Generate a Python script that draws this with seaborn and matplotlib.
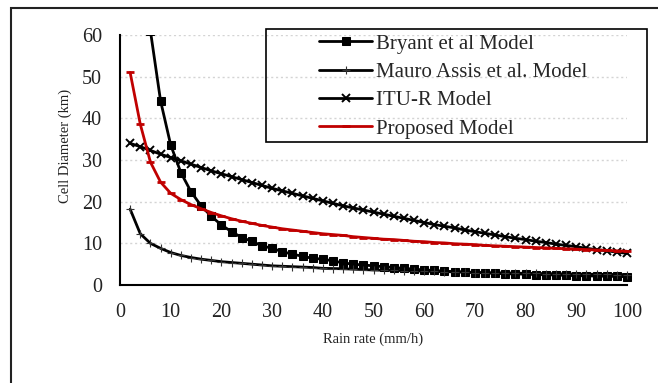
import matplotlib
matplotlib.use("Agg")
import matplotlib.pyplot as plt
from matplotlib.patches import Rectangle
import seaborn as sns

# rain rate (mm/h), one point every 2 mm/h
rain_rate = list(range(2, 101, 2))

bryant = [236, 102, 61, 44.2, 33.6, 27.0, 22.4, 19.0, 16.5, 14.4,
          12.8, 11.4, 10.5, 9.4, 8.8, 8.0, 7.4, 6.9, 6.4, 6.2,
          5.8, 5.3, 5.0, 4.8, 4.6, 4.4, 4.2, 4.0, 3.8, 3.6,
          3.5, 3.3, 3.2, 3.1, 3.0, 2.9, 2.8, 2.7, 2.65, 2.6,
          2.5, 2.45, 2.4, 2.3, 2.25, 2.2, 2.15, 2.1, 2.05, 2.0]

mauro = [18.2, 12.3, 10.0, 8.8, 7.8, 7.1, 6.6, 6.2, 5.9, 5.6,
         5.4, 5.2, 5.0, 4.8, 4.6, 4.5, 4.4, 4.3, 4.2, 4.0,
         3.95, 3.9, 3.8, 3.7, 3.6, 3.55, 3.5, 3.45, 3.4, 3.3,
         3.25, 3.2, 3.15, 3.1, 3.0, 2.97, 2.93, 2.9, 2.85, 2.8,
         2.77, 2.73, 2.7, 2.66, 2.63, 2.6, 2.57, 2.54, 2.52, 2.5]

itu = [34.0, 33.2, 32.3, 31.4, 30.6, 29.8, 29.0, 28.2, 27.4, 26.7,
       26.0, 25.3, 24.6, 23.9, 23.2, 22.6, 22.0, 21.4, 20.8, 20.2,
       19.6, 19.0, 18.5, 18.0, 17.5, 17.0, 16.5, 16.0, 15.5, 15.0,
       14.5, 14.1, 13.7, 13.2, 12.8, 12.4, 12.0, 11.6, 11.2, 10.9,
       10.5, 10.2, 9.8, 9.5, 9.2, 8.8, 8.5, 8.2, 7.9, 7.6]

proposed = [51.0, 38.6, 29.5, 24.7, 22.0, 20.5, 19.3, 18.3, 17.4, 16.6,
            15.9, 15.3, 14.8, 14.3, 13.9, 13.5, 13.2, 12.9, 12.6, 12.3,
            12.1, 11.9, 11.6, 11.4, 11.2, 11.0, 10.9, 10.7, 10.5, 10.4,
            10.2, 10.1, 9.9, 9.8, 9.7, 9.5, 9.4, 9.3, 9.2, 9.1,
            9.0, 8.9, 8.8, 8.7, 8.6, 8.5, 8.4, 8.3, 8.2, 8.1]

labels = ["Bryant et al Model", "Mauro Assis et al. Model",
          "ITU-R Model", "Proposed Model"]
x_ticks = list(range(0, 101, 10))
y_ticks = list(range(0, 61, 10))

sns.set_style("white")
plt.rcParams["font.family"] = ["Liberation Serif", "DejaVu Serif"]

fig = plt.figure(figsize=(6.58, 3.83), dpi=100)
ax = fig.add_axes([120 / 658, 1 - 285 / 383, 507 / 658, 250 / 383])

red = "#c00000"
sns.lineplot(x=rain_rate, y=bryant, color="black", linewidth=2.0, marker="s",
             markersize=5.5, markeredgecolor="black", label=labels[0], ax=ax)
sns.lineplot(x=rain_rate, y=mauro, color="black", linewidth=2.0, marker="+",
             markersize=6, markeredgewidth=0.8, markeredgecolor="#333333",
             label=labels[1], ax=ax)
sns.lineplot(x=rain_rate, y=itu, color="black", linewidth=2.0, marker="x",
             markersize=5.5, markeredgewidth=1.4, markeredgecolor="black",
             label=labels[2], ax=ax)
sns.lineplot(x=rain_rate, y=proposed, color=red, linewidth=2.0, marker="_",
             markersize=6, markeredgewidth=2, markeredgecolor=red,
             label=labels[3], ax=ax)

# let the end markers at x=100 show, but keep Bryant cut at the top
clip = Rectangle((-0.05, 0), 1.1, 1, transform=ax.transAxes)
for line in ax.lines:
    line.set_clip_path(clip)

ax.set_xlim(0, 100)
ax.set_ylim(0, 60)
ax.set_xticks(x_ticks)
ax.set_yticks(y_ticks)
ax.tick_params(length=0, labelsize=14.5, colors="#222222")
ax.tick_params(axis="y", pad=13)
ax.tick_params(axis="x", pad=13)

ax.yaxis.grid(True, linestyle=(0, (1.5, 2)), color="#d4d4d4", linewidth=1)
ax.set_axisbelow(True)
for side in ["top", "right"]:
    ax.spines[side].set_visible(False)
for side in ["left", "bottom"]:
    ax.spines[side].set_color("black")
    ax.spines[side].set_linewidth(1.5)

ax.set_xlabel("Rain rate (mm/h)", fontsize=10.5, color="#222222")
ax.set_ylabel("Cell Diameter (km)", fontsize=10.5, color="#222222")
ax.xaxis.set_label_coords(0.5, -0.19)
ax.yaxis.set_label_coords(-0.095, 0.555)

# legend box drawn separately so it can be wider than its contents
fig.patches.append(Rectangle((266 / 658, 1 - 142 / 383), 381 / 658, 113 / 383,
                             transform=fig.transFigure, fill=False,
                             edgecolor="black", linewidth=1.2, zorder=5))
ax.legend(loc="upper left", bbox_to_anchor=(319 / 658, 1 - 34 / 383),
          bbox_transform=fig.transFigure, frameon=False, borderpad=0,
          borderaxespad=0, fontsize=15, handlelength=2.55, handletextpad=0.2,
          labelspacing=0.42, numpoints=1)

# outer chart border
fig.patches.append(Rectangle((11 / 658, -0.1), 1.2, 1.1 - 8 / 383,
                             transform=fig.transFigure, fill=False,
                             edgecolor="#222222", linewidth=1.5))

fig.savefig("out.png", dpi=100)
